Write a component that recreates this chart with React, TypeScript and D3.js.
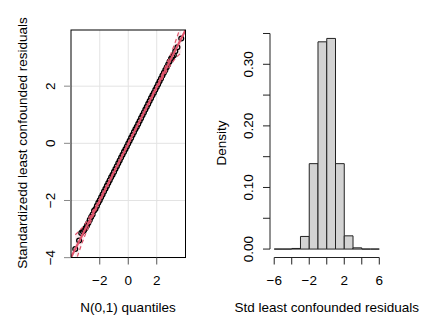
import React from "react";
import * as d3 from "d3";

// QQ plot data (theoretical N(0,1) quantiles vs standardized residuals)
const qqTheoretical = [
  -3.72, -3.45, -3.3, -3.2, -3.1, -3.0, -2.9, -2.8, -2.7, -2.6, -2.5, -2.4, -2.3, -2.2, -2.1, -2.0,
  -1.9, -1.8, -1.7, -1.6, -1.5, -1.4, -1.3, -1.2, -1.1, -1.0, -0.9, -0.8, -0.7, -0.6, -0.5, -0.4,
  -0.3, -0.2, -0.1, 0.0, 0.1, 0.2, 0.3, 0.4, 0.5, 0.6, 0.7, 0.8, 0.9, 1.0, 1.1, 1.2, 1.3, 1.4, 1.5,
  1.6, 1.7, 1.8, 1.9, 2.0, 2.1, 2.2, 2.3, 2.4, 2.5, 2.6, 2.7, 2.8, 2.9, 3.0, 3.1, 3.2, 3.3, 3.45, 3.72,
];
const qqSample = [
  -3.7, -3.4, -3.14, -3.08, -3.04, -2.97, -2.88, -2.79, -2.68, -2.58, -2.49, -2.36, -2.3, -2.19, -2.08, -1.99,
  -1.89, -1.79, -1.69, -1.59, -1.49, -1.39, -1.29, -1.19, -1.1, -1.0, -0.9, -0.8, -0.7, -0.6, -0.5, -0.4,
  -0.3, -0.21, -0.11, -0.01, 0.09, 0.19, 0.29, 0.39, 0.49, 0.58, 0.68, 0.78, 0.88, 0.98, 1.08, 1.18, 1.28, 1.38, 1.48,
  1.58, 1.68, 1.77, 1.87, 1.97, 2.07, 2.17, 2.27, 2.37, 2.47, 2.56, 2.66, 2.76, 2.86, 2.96, 3.03, 3.08, 3.22, 3.36, 3.67,
];
// reference line and pointwise envelope
const lineSlope = 0.99;
const lineIntercept = -0.015;
const envX = [-3.72, -3.5, -3.25, -3.0, -2.75, -2.5, -2.25, -2.0, -1.5, -1.0, -0.5, 0, 0.5, 1.0, 1.5, 2.0, 2.25, 2.5, 2.75, 3.0, 3.25, 3.5, 3.72];
const envHalf = [0.5, 0.38, 0.27, 0.19, 0.14, 0.1, 0.075, 0.06, 0.04, 0.03, 0.025, 0.024, 0.025, 0.03, 0.04, 0.06, 0.075, 0.1, 0.14, 0.19, 0.27, 0.38, 0.5];
const qqXTicks = [-2, 0, 2];
const qqYTicks = [-4, -2, 0, 2];

// Histogram data
const binStarts = [-6, -5, -4, -3, -2, -1, 0, 1, 2, 3, 4, 5];
const binDensity = [0, 0, 0.001, 0.0205, 0.1387, 0.3365, 0.342, 0.1387, 0.0215, 0.002, 0, 0];
const histXTicks = [-6, -4, -2, 0, 2, 4, 6];
const histXLabels = [-6, -2, 2, 6];
const histYTicks = [0, 0.05, 0.1, 0.15, 0.2, 0.25, 0.3, 0.35];
const histYLabels = [0, 0.1, 0.2, 0.3];

const RED = "#DF536B";
const FONT = "'Liberation Sans', Arial, Helvetica, sans-serif";
const FS = 13.5;
const fmtMinus = (v: number, s: string) => (v < 0 ? "\u2212" + s.replace("-", "") : s);

function pad(ext: [number, number]): [number, number] {
  const r = ext[1] - ext[0];
  return [ext[0] - 0.04 * r, ext[1] + 0.04 * r];
}

export default function App() {
  const top = 30;
  const bottom = 257.5;

  // left panel
  const L = { x0: 71, x1: 185.5 };
  const xq = d3.scaleLinear().domain(pad(d3.extent(qqTheoretical) as [number, number])).range([L.x0, L.x1]);
  const yq = d3.scaleLinear().domain(pad(d3.extent(qqSample) as [number, number])).range([bottom, top]);
  const [xa, xb] = xq.domain();
  const upper = d3.line<number>().x((d) => xq(d)).y((d, i) => yq(lineIntercept + lineSlope * d + envHalf[i]));
  const lower = d3.line<number>().x((d) => xq(d)).y((d, i) => yq(lineIntercept + lineSlope * d - envHalf[i]));
  const area = d3
    .area<number>()
    .x((d) => xq(d))
    .y0((d, i) => yq(lineIntercept + lineSlope * d - envHalf[i]))
    .y1((d, i) => yq(lineIntercept + lineSlope * d + envHalf[i]));

  // right panel
  const R = { x0: 270, x1: 383.5 };
  const xh = d3.scaleLinear().domain(pad([-6, 6])).range([R.x0, R.x1]);
  const yh = d3.scaleLinear().domain(pad([0, d3.max(binDensity) as number])).range([bottom, top]);

  const barPath = (b: number, dens: number) => {
    const p = d3.path();
    p.moveTo(xh(b), yh(0));
    p.lineTo(xh(b), yh(dens));
    p.lineTo(xh(b + 1), yh(dens));
    p.lineTo(xh(b + 1), yh(0));
    p.closePath();
    return p.toString();
  };

  return (
    <svg width={430} height={320} style={{ position: "absolute", left: 0, top: 0, background: "#fff" }} fontFamily={FONT}>
      <defs>
        <clipPath id="qqclip">
          <rect x={L.x0} y={top} width={L.x1 - L.x0} height={bottom - top} />
        </clipPath>
      </defs>
      {/* ---------- left: QQ plot ---------- */}
      <g>
        {qqXTicks.map((t) => (
          <line key={"gx" + t} x1={xq(t)} x2={xq(t)} y1={top} y2={bottom} stroke="#e3e3e3" strokeWidth={1} />
        ))}
        {qqYTicks.map((t) => (
          <line key={"gy" + t} x1={L.x0} x2={L.x1} y1={yq(t)} y2={yq(t)} stroke="#e3e3e3" strokeWidth={1} />
        ))}
        <g clipPath="url(#qqclip)">
          <path d={area(envX) || ""} fill={RED} fillOpacity={0.12} stroke="none" />
          {qqTheoretical.map((t, i) => (
            <circle key={"p" + i} cx={xq(t)} cy={yq(qqSample[i])} r={2.4} fill="none" stroke="#000" strokeWidth={1.3} />
          ))}
          <line
            x1={xq(xa)}
            y1={yq(lineIntercept + lineSlope * xa)}
            x2={xq(xb)}
            y2={yq(lineIntercept + lineSlope * xb)}
            stroke={RED}
            strokeWidth={2.2}
          />
          <path d={upper(envX) || ""} fill="none" stroke={RED} strokeWidth={1.2} strokeDasharray="4,3" />
          <path d={lower(envX) || ""} fill="none" stroke={RED} strokeWidth={1.2} strokeDasharray="4,3" />
        </g>
        <rect x={L.x0} y={top} width={L.x1 - L.x0} height={bottom - top} fill="none" stroke="#000" strokeWidth={1} />
        {qqXTicks.map((t) => (
          <g key={"xt" + t}>
            <line x1={xq(t)} x2={xq(t)} y1={bottom} y2={bottom + 7} stroke="#555" strokeWidth={1} />
            <text x={xq(t)} y={284.5} textAnchor="middle" fontSize={FS}>
              {fmtMinus(t, String(t))}
            </text>
          </g>
        ))}
        {qqYTicks.map((t) => (
          <g key={"yt" + t}>
            <line x1={L.x0 - 7} x2={L.x0} y1={yq(t)} y2={yq(t)} stroke="#888" strokeWidth={1} />
            <text transform={`translate(${54.5},${yq(t)}) rotate(-90)`} textAnchor="middle" fontSize={FS}>
              {fmtMinus(t, String(t))}
            </text>
          </g>
        ))}
        <text x={128} y={312} textAnchor="middle" fontSize={FS}>
          N(0,1) quantiles
        </text>
        <text transform={`translate(${27},${143}) rotate(-90)`} textAnchor="middle" fontSize={FS}>
          Standardizedd least confounded residuals
        </text>
      </g>

      {/* ---------- right: histogram ---------- */}
      <g>
        {binStarts.map((b, i) => (
          <path key={"b" + i} d={barPath(b, binDensity[i])} fill="#d3d3d3" stroke="#222" strokeWidth={1} />
        ))}
        <line x1={xh(-6)} x2={xh(6)} y1={bottom} y2={bottom} stroke="#222" strokeWidth={1} />
        {histXTicks.map((t) => (
          <line key={"hx" + t} x1={xh(t)} x2={xh(t)} y1={bottom} y2={bottom + 7} stroke="#222" strokeWidth={1} />
        ))}
        {histXLabels.map((t) => (
          <text key={"hxl" + t} x={xh(t)} y={284.5} textAnchor="middle" fontSize={FS}>
            {fmtMinus(t, String(t))}
          </text>
        ))}
        <line x1={R.x0} x2={R.x0} y1={yh(0)} y2={yh(0.35)} stroke="#222" strokeWidth={1} />
        {histYTicks.map((t) => (
          <line key={"hy" + t} x1={R.x0 - 7} x2={R.x0} y1={yh(t)} y2={yh(t)} stroke="#222" strokeWidth={1} />
        ))}
        {histYLabels.map((t) => (
          <text key={"hyl" + t} transform={`translate(${253},${yh(t)}) rotate(-90)`} textAnchor="middle" fontSize={FS}>
            {d3.format(".2f")(t)}
          </text>
        ))}
        <text x={326.8} y={312} textAnchor="middle" fontSize={FS}>
          Std least confounded residuals
        </text>
        <text transform={`translate(${226},${143}) rotate(-90)`} textAnchor="middle" fontSize={FS}>
          Density
        </text>
      </g>
    </svg>
  );
}
